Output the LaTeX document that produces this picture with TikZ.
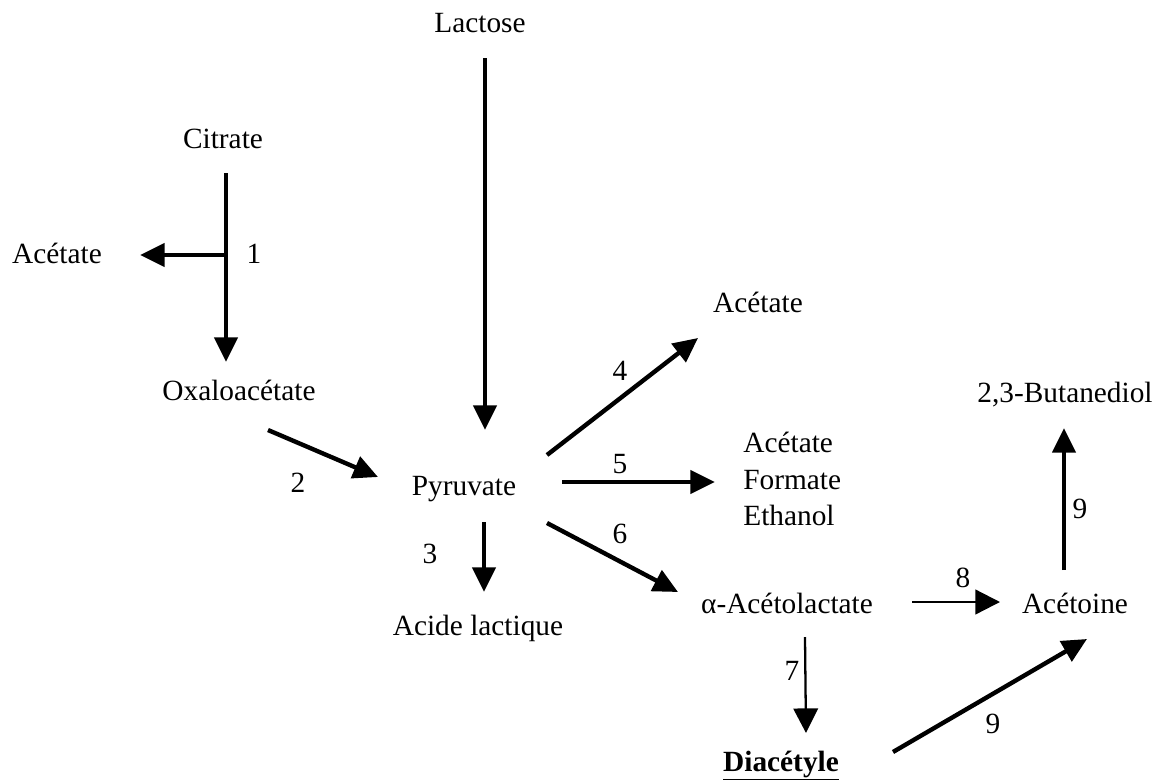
\documentclass[tikz,border=0pt]{standalone}
\usepackage{fontspec}
\setmainfont{Liberation Serif}
\usetikzlibrary{arrows.meta}

\begin{document}
\begin{tikzpicture}[x=0.02cm, y=-0.02cm,
  lbl/.style={anchor=base, inner sep=0pt, font=\fontsize{16.7}{20.7}\selectfont},
  num/.style={lbl},
  arr/.style={line width=2.5pt, -{Triangle[length=14pt, width=13pt]}},
  thinarr/.style={line width=1.3pt, -{Triangle[length=14pt, width=14pt]}}]
\useasboundingbox (0,0) rectangle (1164,782);
% substrates and products
\node[lbl] (lac) at (480,32) {Lactose};
\node[lbl] (cit) at (223,148) {Citrate};
\node[lbl] (acA) at (57,263) {Acétate};
\node[lbl] (oxa) at (239,400) {Oxaloacétate};
\node[lbl] (pyr) at (464,495) {Pyruvate};
\node[lbl] (lact) at (478,635) {Acide lactique};
\node[lbl] (acB) at (758,312) {Acétate};
\node[lbl, anchor=west, align=left] (prod) at (743,479) {Acétate\\Formate\\Ethanol};
\node[lbl] (acl) at (787,613) {α-Acétolactate};
\node[lbl] (acn) at (1075,613) {Acétoine};
\node[lbl] (but) at (1065,402) {2,3-Butanediol};
\node[lbl] (dia) at (781,771) {\underline{\textbf{Diacétyle}}};
% enzyme numbers
\node[num] (n1) at (254,263) {1};
\node[num] (n2) at (298,492) {2};
\node[num] (n3) at (430,563) {3};
\node[num] (n4) at (620,380) {4};
\node[num] (n5) at (620,473) {5};
\node[num] (n6) at (620,543) {6};
\node[num] (n7) at (792,680) {7};
\node[num] (n8) at (963,587) {8};
\node[num] (n9a) at (993,733) {9};
\node[num] (n9b) at (1080,518) {9};
% arrows
\draw[arr] ([shift={(5,26)}]lac.base) -- ([shift={(21,-65)}]pyr.base);
\draw[arr] ([shift={(3,25)}]cit.base) -- ([shift={(-13,-38)}]oxa.base);
\draw[arr] ([shift={(3,107)}]cit.base) -- ([shift={(83,-8)}]acA.base);
\draw[arr] ([shift={(29,30)}]oxa.base) -- ([shift={(-86,-18)}]pyr.base);
\draw[arr] ([shift={(20,27)}]pyr.base) -- ([shift={(6,-43)}]lact.base);
\draw[arr] ([shift={(83,-40)}]pyr.base) -- ([shift={(-60,26)}]acB.base);
\draw[arr] ([shift={(98,-13)}]pyr.base) -- ([shift={(-28,3)}]prod.west);
\draw[arr] ([shift={(83,28)}]pyr.base) -- ([shift={(-109,-21)}]acl.base);
\draw[thinarr] ([shift={(18,24)}]acl.base) -- ([shift={(25,-38)}]dia.base);
\draw[thinarr] ([shift={(125,-11)}]acl.base) -- ([shift={(-75,-11)}]acn.base);
\draw[arr] ([shift={(112,-19)}]dia.base) -- ([shift={(12,26)}]acn.base);
\draw[arr] ([shift={(-11,-43)}]acn.base) -- ([shift={(-1,26)}]but.base);
\end{tikzpicture}
\end{document}
